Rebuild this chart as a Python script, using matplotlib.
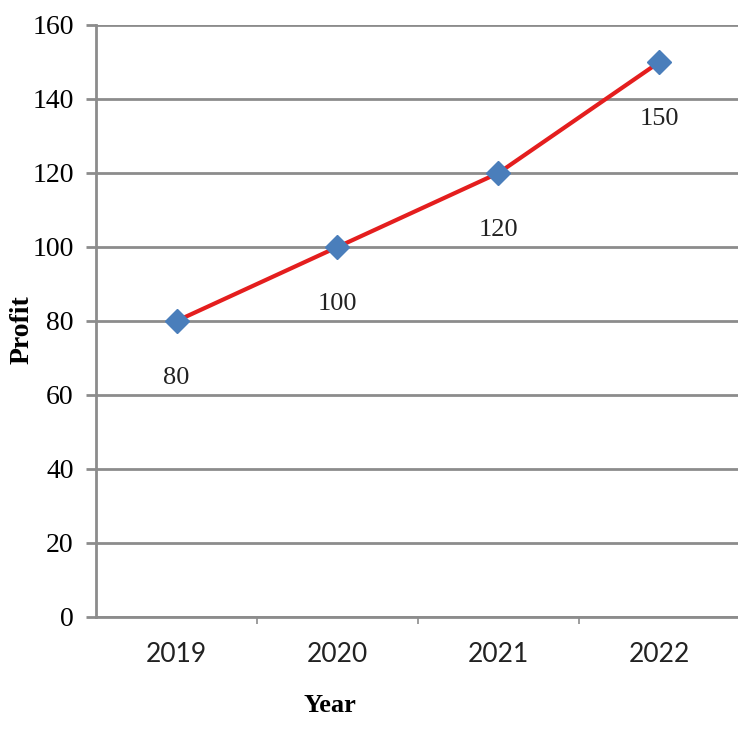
import numpy as np
import matplotlib.pyplot as plt

# data
years = ["2019", "2020", "2021", "2022"]
profit = [80, 100, 120, 150]
y_ticks = [0, 20, 40, 60, 80, 100, 120, 140, 160]

W, H = 738, 752
fig = plt.figure(figsize=(W / 100, H / 100), dpi=100)
ax = fig.add_axes([96 / W, (H - 617) / H, 644 / W, 592 / H])

x = np.arange(len(years)) + 0.5
ax.plot(x, profit, color="#e41e1e", lw=3, zorder=3)
ax.plot(x, profit, ls="none", marker="D", ms=12.5, color="#4a7ebb", zorder=4)

for xi, v in zip(x, profit):
    ax.annotate(str(v), (xi, v), xytext=(0, -41), textcoords="offset points",
                ha="center", va="center", fontsize=19, family="Liberation Serif",
                color="#222222")

ax.set_xlim(0, 4)
ax.set_ylim(0, 160)
ax.set_yticks(y_ticks)
ax.set_yticklabels([str(t) for t in y_ticks], family="Liberation Serif", fontsize=20)
ax.yaxis.grid(True, color="#8c8c8c", lw=2)
ax.set_axisbelow(True)

ax.set_xticks([1, 2, 3], minor=False)
ax.set_xticklabels([])
ax.set_xticks(x, minor=True)
ax.set_xticklabels(years, minor=True, family="Lato", fontsize=19, color="#222222")
ax.tick_params(axis="x", which="major", length=5, color="#8c8c8c", width=1.2)
ax.tick_params(axis="x", which="minor", length=0, pad=18)
ax.tick_params(axis="y", length=7, color="#8c8c8c", width=2, pad=9)

for s in ["top", "right"]:
    ax.spines[s].set_visible(False)
ax.spines["left"].set_color("#8c8c8c")
ax.spines["left"].set_linewidth(2)
ax.spines["bottom"].set_color("#8c8c8c")
ax.spines["bottom"].set_linewidth(2)

fig.text(22 / W, 1 - 330 / H, "Profit", rotation=90, fontsize=20, fontweight="bold",
         family="Liberation Serif", ha="center", va="center")
fig.text(330 / W, 1 - 706 / H, "Year", fontsize=19, fontweight="bold",
         family="Liberation Serif", ha="center", va="center")

fig.savefig("out.png", dpi=100)
